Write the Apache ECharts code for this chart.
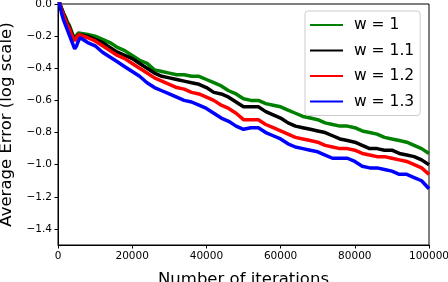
<!DOCTYPE html>
<html><head><meta charset="utf-8">
<script src="https://cdn.jsdelivr.net/npm/echarts@6/dist/echarts.min.js"></script>
<style>html,body{margin:0;padding:0;background:#fff}#c{width:448px;height:282px}</style>
</head><body><div id="c"></div>
<script>
const iterations = [0,500,1000,1500,2000,2500,3000,3500,4000,4500,5000,5500,6000,
 8000,10000,12000,14000,16000,18000,20000,22000,24000,26000,28000,30000,32000,34000,36000,38000,40000,
 42000,44000,46000,48000,50000,52000,54000,56000,58000,60000,62000,64000,66000,68000,70000,
 72000,74000,76000,78000,80000,82000,84000,86000,88000,90000,92000,94000,96000,98000,100000];
const w1 = [0.05,0.0,-0.03,-0.06,-0.08,-0.11,-0.13,-0.16,-0.19,-0.21,-0.20,-0.18,-0.17,
 -0.19,-0.20,-0.22,-0.24,-0.27,-0.29,-0.32,-0.35,-0.37,-0.41,-0.42,-0.43,-0.44,-0.44,-0.45,-0.45,-0.47,
 -0.49,-0.51,-0.54,-0.56,-0.59,-0.60,-0.60,-0.62,-0.63,-0.64,-0.66,-0.68,-0.70,-0.71,-0.72,
 -0.74,-0.75,-0.76,-0.76,-0.77,-0.79,-0.80,-0.81,-0.83,-0.84,-0.85,-0.86,-0.88,-0.90,-0.93];
const w11 = [0.05,0.0,-0.03,-0.06,-0.09,-0.12,-0.14,-0.17,-0.20,-0.22,-0.21,-0.19,-0.18,
 -0.20,-0.22,-0.24,-0.27,-0.30,-0.32,-0.34,-0.37,-0.40,-0.43,-0.45,-0.46,-0.47,-0.48,-0.49,-0.50,-0.52,
 -0.55,-0.56,-0.58,-0.61,-0.64,-0.64,-0.64,-0.67,-0.69,-0.71,-0.74,-0.76,-0.77,-0.78,-0.79,
 -0.80,-0.82,-0.84,-0.85,-0.86,-0.88,-0.90,-0.90,-0.91,-0.91,-0.93,-0.94,-0.95,-0.97,-1.00];
const w12 = [0.05,0.0,-0.04,-0.07,-0.10,-0.13,-0.15,-0.18,-0.21,-0.23,-0.21,-0.19,-0.19,
 -0.21,-0.23,-0.26,-0.29,-0.32,-0.34,-0.37,-0.40,-0.43,-0.46,-0.48,-0.50,-0.52,-0.53,-0.55,-0.56,-0.58,
 -0.60,-0.63,-0.65,-0.68,-0.72,-0.72,-0.72,-0.75,-0.77,-0.79,-0.81,-0.83,-0.84,-0.85,-0.86,
 -0.88,-0.89,-0.90,-0.90,-0.91,-0.93,-0.94,-0.95,-0.95,-0.96,-0.97,-0.98,-1.00,-1.02,-1.06];
const w13 = [0.05,-0.01,-0.06,-0.10,-0.13,-0.16,-0.19,-0.22,-0.25,-0.28,-0.26,-0.23,-0.21,
 -0.24,-0.26,-0.30,-0.33,-0.36,-0.39,-0.42,-0.45,-0.49,-0.52,-0.54,-0.56,-0.58,-0.60,-0.61,-0.63,-0.65,
 -0.68,-0.71,-0.73,-0.76,-0.78,-0.77,-0.77,-0.80,-0.82,-0.84,-0.87,-0.89,-0.90,-0.91,-0.92,
 -0.94,-0.96,-0.96,-0.96,-0.98,-1.01,-1.02,-1.02,-1.03,-1.04,-1.06,-1.06,-1.08,-1.10,-1.15];
const seriesNames = ['w = 1','w = 1.1','w = 1.2','w = 1.3'];
const seriesColors = ['#008000','#000000','#ff0000','#0000ff'];
const yTicks = [0,-0.2,-0.4,-0.6,-0.8,-1.0,-1.2,-1.4];
const xTicks = [0,20000,40000,60000,80000,100000];

const font = 'DejaVu Sans';
const allData = [w1,w11,w12,w13];
const chart = echarts.init(document.getElementById('c'), null, {renderer:'canvas'});
chart.setOption({
  animation:false,
  backgroundColor:'#fff',
  grid:{left:58,right:19,top:4,bottom:37,show:true,borderColor:'#000',borderWidth:1,containLabel:false,outerBoundsMode:'none'},
  legend:{
    orient:'vertical',left:305,top:11,
    backgroundColor:'rgba(255,255,255,0.8)',borderColor:'#cccccc',borderWidth:1,borderRadius:3,
    padding:[6,6,6,5],itemWidth:33,itemHeight:14,itemGap:9.5,
    textStyle:{fontFamily:font,fontSize:15.5,color:'#000',padding:[0,0,0,6]},
    data:seriesNames.map(n=>({name:n,icon:'path://M0,0L100,0L100,6L0,6Z'}))
  },
  xAxis:{
    type:'value',min:0,max:100000,
    name:'Number of iterations',nameLocation:'middle',nameGap:26,
    nameTextStyle:{fontFamily:font,fontSize:16.5,color:'#000'},
    axisLine:{show:true,onZero:false,lineStyle:{color:'#000',width:1}},
    axisTick:{show:true,length:3.5,customValues:xTicks,lineStyle:{color:'#000'}},
    axisLabel:{customValues:xTicks,fontFamily:font,fontSize:10.5,color:'#000',margin:6,formatter:v=>String(v)},
    splitLine:{show:false}
  },
  yAxis:{
    type:'value',min:-1.5,max:0,
    name:'Average Error (log scale)',nameLocation:'middle',nameGap:39,
    nameTextStyle:{fontFamily:font,fontSize:16.5,color:'#000'},
    axisLine:{show:true,onZero:false,lineStyle:{color:'#000',width:1}},
    axisTick:{show:true,length:3.5,customValues:yTicks,lineStyle:{color:'#000'}},
    axisLabel:{customValues:yTicks,fontFamily:font,fontSize:10.5,color:'#000',margin:6,
      formatter:v=>(v<0?'\u2212':'')+Math.abs(v).toFixed(1)},
    splitLine:{show:false}
  },
  series:seriesNames.map((n,i)=>({
    name:n,type:'line',symbol:'none',clip:true,
    data:iterations.map((x,j)=>[x,allData[i][j]]),
    lineStyle:{color:seriesColors[i],width:3.5},itemStyle:{color:seriesColors[i]}
  }))
});
</script></body></html>
